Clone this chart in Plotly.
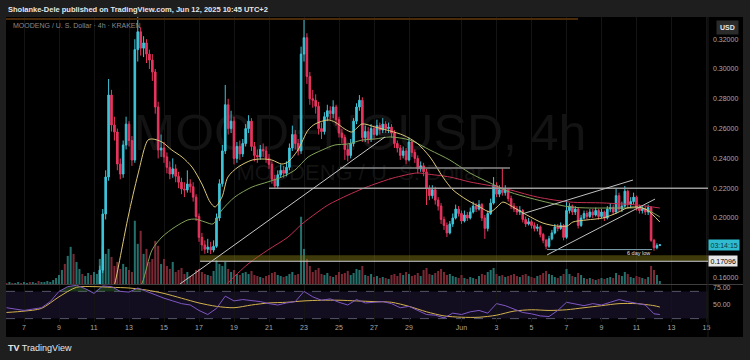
import numpy as np
import pandas as pd
import plotly.graph_objects as go

# ---------------- data (MOODENG/USD, 4h candles, KRAKEN) ----------------
start_time = "2025-05-06 00:00"          # time of the first 4h candle
first_open = 0.086

closes = [0.085, 0.086, 0.084, 0.087, 0.088, 0.087,
          0.088, 0.090, 0.089, 0.092, 0.095, 0.094, 0.097, 0.101, 0.104, 0.108,
          0.112, 0.118, 0.124, 0.130, 0.127, 0.132, 0.136, 0.134, 0.138, 0.141,
          0.139, 0.143, 0.146, 0.144, 0.148,
          0.151, 0.165, 0.2027, 0.2275, 0.2825, 0.2624, 0.2577, 0.2362, 0.2295, 0.2490,
          0.2630, 0.2520, 0.2389, 0.3130, 0.3250, 0.3140, 0.3175, 0.3100, 0.3060, 0.2980,
          0.2745, 0.2456, 0.2470, 0.2410, 0.2340, 0.2295, 0.2330, 0.2280, 0.2240, 0.2195,
          0.2188, 0.2228, 0.2210, 0.2140, 0.2010, 0.1870, 0.1819, 0.1790, 0.1805, 0.1785,
          0.1810, 0.2000, 0.2230, 0.2450, 0.2760, 0.2600, 0.2650, 0.2400, 0.2480, 0.2430,
          0.2500, 0.2600, 0.2650, 0.2480, 0.2420, 0.2410, 0.2460, 0.2450, 0.2400, 0.2360,
          0.2260, 0.2215, 0.2290, 0.2320, 0.2300, 0.2340, 0.2470, 0.2560, 0.2500, 0.2450,
          0.3100, 0.3210, 0.2950, 0.2800, 0.2790, 0.2750, 0.2600, 0.2580, 0.2680, 0.2720,
          0.2700, 0.2745, 0.2660, 0.2570, 0.2540, 0.2460, 0.2420, 0.2500, 0.2650, 0.2745,
          0.2790, 0.2540, 0.2580, 0.2530, 0.2600, 0.2560, 0.2620, 0.2590, 0.2630, 0.2600,
          0.2610, 0.2570, 0.2500, 0.2470, 0.2420, 0.2450, 0.2390, 0.2510, 0.2440, 0.2400,
          0.2330, 0.2350, 0.2310, 0.2200, 0.2150, 0.2190, 0.2120, 0.2080, 0.1990, 0.1950,
          0.1900, 0.1960, 0.2000, 0.2060, 0.2030, 0.1980, 0.2020, 0.2000, 0.2040, 0.2080,
          0.2060, 0.2090, 0.2000, 0.1930, 0.2030, 0.2100, 0.2220, 0.2160, 0.2190, 0.2170,
          0.2190, 0.2130, 0.2080, 0.2060, 0.2040, 0.2050, 0.1990, 0.1960, 0.1975, 0.1950,
          0.1930, 0.1940, 0.1890, 0.1850, 0.1810, 0.1860, 0.1900, 0.1940, 0.1930, 0.1950,
          0.1870, 0.2050, 0.2080, 0.2040, 0.2060, 0.1950, 0.2000, 0.2030, 0.2010, 0.2040,
          0.2020, 0.2050, 0.2010, 0.2040, 0.2000, 0.2060, 0.2070, 0.2040, 0.2150, 0.2060,
          0.2080, 0.2180, 0.2090, 0.2110, 0.2140, 0.2070, 0.2050, 0.2060, 0.2040, 0.2070,
          0.1850, 0.1800, 0.1815, 0.1820]

highs = [0.088, 0.088, 0.087, 0.089, 0.090, 0.089,
         0.091, 0.093, 0.092, 0.095, 0.098, 0.097, 0.100, 0.104, 0.107, 0.111,
         0.115, 0.121, 0.128, 0.134, 0.132, 0.135, 0.139, 0.138, 0.141, 0.144,
         0.143, 0.146, 0.149, 0.148, 0.151,
         0.154, 0.168, 0.206, 0.232, 0.2933, 0.286, 0.268, 0.260, 0.240, 0.252,
         0.268, 0.265, 0.255, 0.320, 0.335, 0.328, 0.322, 0.320, 0.313, 0.310,
         0.300, 0.278, 0.256, 0.251, 0.244, 0.238, 0.240, 0.236, 0.231, 0.227,
         0.224, 0.232, 0.226, 0.224, 0.216, 0.203, 0.190, 0.185, 0.186, 0.184,
         0.185, 0.203, 0.226, 0.249, 0.2893, 0.280, 0.272, 0.268, 0.251, 0.252,
         0.253, 0.263, 0.269, 0.267, 0.251, 0.246, 0.249, 0.250, 0.248, 0.243,
         0.238, 0.229, 0.232, 0.236, 0.235, 0.238, 0.250, 0.262, 0.259, 0.253,
         0.315, 0.333, 0.324, 0.298, 0.286, 0.283, 0.278, 0.264, 0.271, 0.276,
         0.275, 0.279, 0.276, 0.268, 0.260, 0.256, 0.249, 0.253, 0.267, 0.277,
         0.2825, 0.281, 0.262, 0.261, 0.263, 0.262, 0.266, 0.264, 0.267, 0.265,
         0.264, 0.263, 0.259, 0.252, 0.249, 0.248, 0.247, 0.254, 0.252, 0.246,
         0.242, 0.238, 0.237, 0.233, 0.222, 0.222, 0.221, 0.214, 0.210, 0.201,
         0.197, 0.198, 0.203, 0.209, 0.208, 0.205, 0.205, 0.204, 0.207, 0.211,
         0.210, 0.212, 0.210, 0.202, 0.205, 0.213, 0.2275, 0.224, 0.222, 0.2335,
         0.222, 0.220, 0.215, 0.210, 0.208, 0.208, 0.206, 0.201, 0.200, 0.199,
         0.197, 0.196, 0.195, 0.190, 0.186, 0.188, 0.192, 0.196, 0.196, 0.197,
         0.196, 0.2121, 0.210, 0.209, 0.208, 0.207, 0.202, 0.205, 0.205, 0.206,
         0.206, 0.207, 0.206, 0.206, 0.205, 0.208, 0.210, 0.209, 0.220, 0.217,
         0.211, 0.2215, 0.219, 0.214, 0.217, 0.215, 0.209, 0.208, 0.208, 0.209,
         0.208, 0.186, 0.183, 0.1825]

lows = [0.083, 0.084, 0.082, 0.083, 0.086, 0.085,
        0.085, 0.087, 0.087, 0.088, 0.091, 0.092, 0.093, 0.096, 0.100, 0.103,
        0.106, 0.110, 0.116, 0.122, 0.124, 0.126, 0.130, 0.131, 0.133, 0.136,
        0.136, 0.137, 0.141, 0.141, 0.143,
        0.146, 0.150, 0.163, 0.199, 0.225, 0.258, 0.252, 0.232, 0.226, 0.227,
        0.246, 0.248, 0.235, 0.237, 0.305, 0.309, 0.308, 0.304, 0.300, 0.292,
        0.270, 0.240, 0.241, 0.237, 0.230, 0.226, 0.227, 0.224, 0.220, 0.216,
        0.214, 0.217, 0.217, 0.211, 0.198, 0.184, 0.178, 0.176, 0.1765, 0.1758,
        0.177, 0.180, 0.198, 0.221, 0.243, 0.256, 0.257, 0.236, 0.237, 0.239,
        0.241, 0.248, 0.257, 0.245, 0.238, 0.237, 0.239, 0.241, 0.237, 0.233,
        0.223, 0.2195, 0.220, 0.227, 0.227, 0.228, 0.232, 0.245, 0.246, 0.242,
        0.243, 0.305, 0.290, 0.276, 0.274, 0.270, 0.256, 0.253, 0.256, 0.265,
        0.266, 0.267, 0.262, 0.254, 0.250, 0.239, 0.238, 0.240, 0.248, 0.263,
        0.272, 0.251, 0.251, 0.250, 0.251, 0.253, 0.255, 0.256, 0.257, 0.257,
        0.257, 0.254, 0.247, 0.244, 0.239, 0.240, 0.236, 0.238, 0.241, 0.237,
        0.230, 0.231, 0.228, 0.2087, 0.212, 0.213, 0.209, 0.205, 0.196, 0.192,
        0.1872, 0.189, 0.194, 0.199, 0.201, 0.196, 0.197, 0.198, 0.199, 0.203,
        0.204, 0.205, 0.198, 0.1860, 0.191, 0.202, 0.209, 0.214, 0.214, 0.215,
        0.215, 0.211, 0.206, 0.204, 0.202, 0.202, 0.197, 0.194, 0.195, 0.193,
        0.191, 0.191, 0.187, 0.183, 0.1790, 0.180, 0.185, 0.189, 0.191, 0.192,
        0.185, 0.186, 0.203, 0.202, 0.202, 0.193, 0.194, 0.199, 0.199, 0.200,
        0.200, 0.201, 0.199, 0.200, 0.198, 0.199, 0.204, 0.202, 0.203, 0.204,
        0.204, 0.207, 0.207, 0.207, 0.209, 0.205, 0.203, 0.203, 0.202, 0.202,
        0.184, 0.178, 0.179, 0.1812]

volumes = [1, 2, 1, 1, 2, 1,
           2, 1, 2, 2, 1, 3, 2, 2, 3, 2,
           4, 6, 9, 14, 20, 28, 37, 30, 22, 15,
           10, 8, 11, 9, 12, 10,
           25, 38, 30, 35,
           27, 18, 22, 15, 20, 17, 14, 12,
           63, 40,
           53, 30, 35, 22, 25, 43, 38,
           20, 25, 18, 15, 22, 12, 14, 16, 10, 12, 8, 9,
           14, 15, 12, 10, 9, 8, 13,
           24, 20, 18, 22,
           15, 12, 14, 10, 9, 11, 12, 10, 13, 9, 8, 7, 6, 8, 9, 11, 12, 9, 8, 7, 8, 10, 12, 9, 10,
           67, 35,
           25, 18, 12, 14, 16, 10, 9, 11, 8, 7, 9, 12, 10, 11, 13, 9, 11, 15, 14, 18, 9, 8, 10, 7,
           8, 6, 7, 6, 5, 9, 10, 8, 11, 9, 12, 10, 8, 9, 11, 8, 14, 16, 10, 9, 11, 13, 15, 12, 9, 10, 8, 7, 6, 9,
           6, 5, 7, 6, 5, 8, 10, 9, 12, 14, 16, 10, 8, 9, 7, 8, 9, 10, 8, 7, 9, 10, 8, 7, 6, 8, 9, 11, 13, 10, 9, 7, 6, 8, 10,
           15, 10, 8, 7, 11, 9, 6, 5, 6, 5, 4, 5, 6, 5, 6, 7, 6, 11, 9, 8, 12, 10, 7, 6, 8, 7, 6, 5, 7,
           18, 14, 9, 3]

# moving averages, sampled at candle indices counted from 2025-05-07 00:00
ma_ref_time = "2025-05-07 00:00"
ema_fast_idx = [29, 31.2, 35.7, 39.1, 42.5, 44.2, 47.3, 50.7, 54.2, 57.6, 61.0, 63.8, 65.5, 67.9, 69.9,
                73.4, 78.2, 81.6, 85.0, 88.4, 90.5, 93.9, 97.4, 99.8, 104.2, 106.6, 110.0, 112.4, 115.9,
                120.3, 129.9, 134.7, 139.2, 143.6, 147.1, 151.9, 156.3, 159.8, 162.2, 164.2, 167.6, 172.4,
                177.9, 182.7, 186.2, 188.2, 193.0, 198.5, 203.3, 206.7, 210.2, 213.6, 218.0]
ema_fast = [0.140, 0.1564, 0.2007, 0.2295, 0.2523, 0.2530, 0.2510, 0.2456, 0.2409, 0.2342, 0.2228, 0.2107,
            0.2074, 0.2141, 0.2275, 0.2342, 0.2389, 0.2396, 0.2389, 0.2362, 0.2376, 0.2456, 0.2590, 0.2631,
            0.2658, 0.2644, 0.2597, 0.2577, 0.2631, 0.2611, 0.2557, 0.2503, 0.2409, 0.2275, 0.2188, 0.2121,
            0.2074, 0.2040, 0.2074, 0.2107, 0.2074, 0.2020, 0.1966, 0.1946, 0.1946, 0.1973, 0.1987, 0.2000,
            0.2034, 0.2067, 0.2074, 0.2054, 0.1973]
ema_mid_idx = [37, 40.5, 43.9, 47.3, 51.8, 56.2, 58.6, 62.1, 64.8, 67.9, 72.3, 78.2, 83.6, 88.4, 92.9, 97.4,
               102.2, 106.6, 111.1, 115.9, 120.3, 125.5, 132.3, 139.2, 146.0, 152.9, 159.8, 166.6, 173.5,
               180.3, 187.2, 194.0, 200.9, 207.8, 212.2, 218.0]
ema_mid = [0.145, 0.1564, 0.1785, 0.1872, 0.1940, 0.1987, 0.1993, 0.1973, 0.1960, 0.2054, 0.2141, 0.2208,
           0.2242, 0.2275, 0.2322, 0.2409, 0.2456, 0.2490, 0.2497, 0.2523, 0.2530, 0.2544, 0.2523, 0.2456,
           0.2389, 0.2302, 0.2235, 0.2174, 0.2134, 0.2101, 0.2074, 0.2067, 0.2067, 0.2067, 0.2067, 0.2007]
ema_slow_idx = [66, 69.9, 76.8, 83.6, 90.5, 95.3, 99.8, 104.2, 111.1, 115.9, 120.3, 126.5, 134.7, 138.2,
                146.0, 152.9, 164.2, 175.9, 187.2, 198.5, 210.2, 218.0]
ema_slow = [0.148, 0.1564, 0.1691, 0.1785, 0.1872, 0.1960, 0.2027, 0.2087, 0.2154, 0.2195, 0.2228, 0.2268,
            0.2302, 0.2295, 0.2275, 0.2242, 0.2201, 0.2141, 0.2107, 0.2101, 0.2087, 0.2067]

rsi_idx = list(range(-6, 217, 3)) + [218]
rsi = [46, 44, 42, 44, 46, 55, 70, 77, 79, 74,
       67, 78, 77, 70, 69, 75, 70, 64, 60, 56,
       52, 50, 42, 36, 45, 63, 56, 58, 57, 55,
       52, 50, 53, 55, 70, 62, 57, 59, 54, 50,
       58, 53, 54, 55, 52, 46, 48, 42, 36, 35,
       31, 38, 36, 40, 42, 38, 52, 49, 44, 39,
       37, 34, 33, 42, 54, 52, 49, 52, 50, 54,
       58, 55, 52, 50, 37, 36]
rsi_ma_idx = list(range(-6, 217, 6)) + [218]
rsi_ma = [39, 41, 45, 62, 76, 77, 76, 75, 72, 67,
          60, 53, 48, 46, 50, 53, 54, 56, 57, 57,
          56, 55, 54, 48, 40, 34, 32, 32, 35, 41,
          43, 42, 43, 46, 49, 52, 52, 49, 47]

price_ticks = [0.16, 0.20, 0.22, 0.24, 0.26, 0.28, 0.30, 0.32]
date_ticks = ["2025-05-07", "2025-05-09", "2025-05-11", "2025-05-13", "2025-05-15", "2025-05-17",
              "2025-05-19", "2025-05-21", "2025-05-23", "2025-05-25", "2025-05-27", "2025-05-29",
              "2025-06-01", "2025-06-03", "2025-06-05", "2025-06-07", "2025-06-09", "2025-06-11",
              "2025-06-13", "2025-06-15"]
date_labels = ["7", "9", "11", "13", "15", "17", "19", "21", "23", "25", "27", "29",
               "Jun", "3", "5", "7", "9", "11", "13", "15"]

# ---------------- derived ----------------
times = pd.date_range(start_time, periods=len(closes), freq="4h")
opens = [first_open] + closes[:-1]
ref = pd.Timestamp(ma_ref_time)
def idx_time(ix):
    return [ref + pd.Timedelta(hours=4 * v) for v in ix]
def day(d):  # day counted from 30 April (May 7 -> 7, Jun 1 -> 32)
    return pd.Timestamp("2025-04-30") + pd.Timedelta(days=d)

UP, DN = "#3fc4d8", "#e8355f"
VUP, VDN = "#23706c", "#7a2934"
vol_colors = [VUP if c >= o else VDN for o, c in zip(opens, closes)]

X0, X1 = day(5.9714), day(46.0857)
P0, P1 = 0.1557, 0.3349
FONT = "Liberation Sans, Arial, sans-serif"
AX = "#a9a9a9"

# plot area in pixels: x 6..708, y 17..322
def px(x): return (x - 6) / 702
def py(y): return (322 - y) / 305

fig = go.Figure()

# watermark (base layer, below everything)
fig.add_trace(go.Scatter(x=[day(26.2), day(26.2)], y=[0.2543, 0.2289], mode="text",
                         text=["MOODENGUSD, 4h", "MOODENG / U. S. Dollar"],
                         textfont=dict(size=[50, 22], color="#131313", family=FONT),
                         hoverinfo="skip", showlegend=False, xaxis="x", yaxis="y"))

# volume overlay
fig.add_trace(go.Bar(x=times, y=volumes, marker=dict(color=vol_colors, line=dict(width=0)),
                     width=0.7 * 4 * 3600 * 1000, yaxis="y2", showlegend=False, hoverinfo="skip"))

# candles
fig.add_trace(go.Candlestick(x=times, open=opens, high=highs, low=lows, close=closes,
                             increasing=dict(line=dict(color=UP, width=1), fillcolor=UP),
                             decreasing=dict(line=dict(color=DN, width=1), fillcolor=DN),
                             whiskerwidth=0, yaxis="y4", showlegend=False, hoverinfo="skip"))

for ix, vals, col in [(ema_slow_idx, ema_slow, "#c2304f"),
                      (ema_mid_idx, ema_mid, "#82a35a"),
                      (ema_fast_idx, ema_fast, "#dcc878")]:
    fig.add_trace(go.Scatter(x=idx_time(ix), y=vals, mode="lines",
                             line=dict(color=col, width=1, shape="spline", smoothing=0.8),
                             yaxis="y4", showlegend=False, hoverinfo="skip"))

# RSI pane: overbought fill, RSI-based MA, RSI
rsi_times = idx_time(rsi_idx)
fig.add_trace(go.Scatter(x=rsi_times, y=[70] * len(rsi), mode="lines", line=dict(width=0),
                         yaxis="y3", showlegend=False, hoverinfo="skip"))
fig.add_trace(go.Scatter(x=rsi_times, y=list(np.maximum(rsi, 70)), mode="lines", line=dict(width=0),
                         fill="tonexty", fillcolor="rgba(70,150,70,0.35)",
                         yaxis="y3", showlegend=False, hoverinfo="skip"))
fig.add_trace(go.Scatter(x=idx_time(rsi_ma_idx), y=rsi_ma, mode="lines",
                         line=dict(color="#d2b24c", width=1, shape="spline", smoothing=0.8),
                         yaxis="y3", showlegend=False, hoverinfo="skip"))
fig.add_trace(go.Scatter(x=rsi_times, y=rsi, mode="lines",
                         line=dict(color="#7e57c2", width=1),
                         yaxis="y3", showlegend=False, hoverinfo="skip"))

shapes = [
    dict(type="rect", xref="paper", yref="paper", x0=px(6), x1=px(743), y0=py(337), y1=py(17),
         fillcolor="#000000", line=dict(width=0), layer="below"),
    dict(type="rect", xref="paper", yref="y3", x0=0, x1=1, y0=30, y1=70,
         fillcolor="#130d20", line=dict(width=0), layer="below"),
    dict(type="line", xref="paper", yref="y3", x0=0, x1=1, y0=70, y1=70,
         line=dict(color="#55556a", width=1, dash="dash"), layer="below"),
    dict(type="line", xref="paper", yref="y3", x0=0, x1=1, y0=30, y1=30,
         line=dict(color="#55556a", width=1, dash="dash"), layer="below"),
    dict(type="line", xref="paper", yref="paper", x0=px(6), x1=px(578), y0=py(19), y1=py(19),
         line=dict(color="#4a2a08", width=2)),
    dict(type="line", xref="paper", yref="paper", x0=px(6), x1=px(743), y0=py(284.5), y1=py(284.5),
         line=dict(color="#3e3e3e", width=1)),
    dict(type="line", xref="paper", yref="paper", x0=1, x1=1, y0=py(337), y1=py(17),
         line=dict(color="#1c1c1c", width=1)),
    # drawings
    dict(type="rect", xref="x", yref="y", x0=day(17.06), x1=X1, y0=0.1712, y1=0.1750,
         fillcolor="rgba(125,115,20,0.5)", line=dict(width=0), layer="above"),
    dict(type="line", xref="x", yref="y", x0=day(17.06), x1=X1, y0=0.17096, y1=0.17096,
         line=dict(color="#cfcfcf", width=1)),
    dict(type="line", xref="x", yref="y", x0=day(21.0), x1=X1, y0=0.2200, y1=0.2200,
         line=dict(color="#9c9c9c", width=1.5)),
    dict(type="line", xref="x", yref="y", x0=day(25.06), x1=day(34.77), y0=0.2336, y1=0.2336,
         line=dict(color="#8a8a8a", width=1.5)),
    dict(type="line", xref="x", yref="y", x0=day(15.91), x1=day(27.63), y0=0.1557, y1=0.2544,
         line=dict(color="#c8c8c8", width=1)),
    dict(type="line", xref="x", yref="y", x0=day(36.89), x1=day(43.06), y0=0.1752, y1=0.2127,
         line=dict(color="#c0c0c0", width=1)),
    dict(type="line", xref="x", yref="y", x0=day(35.46), x1=day(41.8), y0=0.2027, y1=0.2255,
         line=dict(color="#c0c0c0", width=1)),
    dict(type="line", xref="x", yref="y", x0=day(36.89), x1=day(42.89), y0=0.1788, y1=0.1788,
         line=dict(color="#7fa6b6", width=1)),
]

annotations = [
    dict(text="<b>Sholanke-Dele published on TradingView.com, Jun 12, 2025 10:45 UTC+2</b>",
         xref="paper", yref="paper", x=px(6), y=py(9), xanchor="left", yanchor="middle",
         showarrow=False, font=dict(size=7.5, color="#e6e6e6", family=FONT)),
    dict(text="MOODENG / U. S. Dollar · 4h · KRAKEN", xref="paper", yref="paper",
         x=px(11), y=py(26), xanchor="left", yanchor="middle", showarrow=False,
         font=dict(size=7, color="#8a8a8a", family=FONT)),
    dict(text="<b>USD</b>", xref="paper", yref="paper", x=px(727), y=py(27),
         xanchor="center", yanchor="middle", showarrow=False, bgcolor="#2b2b2b",
         borderpad=3, font=dict(size=7, color="#e8e8e8", family=FONT)),
    dict(text="03:14:15", xref="paper", yref="y", x=px(724), y=0.1819,
         xanchor="center", yanchor="middle", showarrow=False, bgcolor="#30bcd0",
         borderpad=1.5, font=dict(size=7, color="#083a44", family=FONT)),
    dict(text="0.17096", xref="paper", yref="y", x=px(723), y=0.17096,
         xanchor="center", yanchor="middle", showarrow=False, bgcolor="#e6e6e6",
         borderpad=1.5, font=dict(size=7, color="#000000", family=FONT)),
    dict(text="6 day low", xref="x", yref="y", x=day(42.14), y=0.1762,
         xanchor="center", yanchor="middle", showarrow=False,
         font=dict(size=5.5, color="#e0e0e0", family=FONT)),
    dict(text="<b>TV</b> TradingView", xref="paper", yref="paper", x=px(6), y=py(348),
         xanchor="left", yanchor="middle", showarrow=False,
         font=dict(size=9, color="#e8e8e8", family=FONT)),
]

fig.update_layout(
    width=750, height=360,
    margin=dict(l=6, r=42, t=17, b=38, pad=0),
    paper_bgcolor="#1e1e1e", plot_bgcolor="#000000",
    showlegend=False, hovermode=False, boxgap=0.45, boxgroupgap=0,
    font=dict(family=FONT, size=7, color=AX),
    xaxis=dict(type="date", range=[X0, X1], domain=[0, 1], anchor="y3",
               tickvals=date_ticks, ticktext=date_labels, ticks="", showline=False,
               zeroline=False, showgrid=True, gridcolor="#141414", gridwidth=1,
               tickfont=dict(size=7, color=AX), rangeslider=dict(visible=False)),
    yaxis=dict(domain=[py(284), 1], range=[P0, P1], side="right", anchor="x",
               tickvals=price_ticks, ticktext=[f"{v:.5f}" for v in price_ticks],
               showgrid=False, zeroline=False, ticks="", ticklabelstandoff=4,
               tickfont=dict(size=7, color=AX)),
    yaxis2=dict(overlaying="y", anchor="x", range=[0, 266], visible=False),
    yaxis4=dict(overlaying="y", anchor="x", range=[P0, P1], visible=False),
    yaxis3=dict(domain=[0, py(285)], range=[25, 79.4], side="right", anchor="x",
                tickvals=[50, 75], ticktext=["50.00", "75.00"], showgrid=False,
                zeroline=False, ticks="", ticklabelstandoff=4,
                tickfont=dict(size=7, color=AX)),
    shapes=shapes, annotations=annotations,
)

fig.write_html("out.html",
               config={"displayModeBar": False, "staticPlot": True},
               post_script="document.body.style.margin='0';"
                           "document.documentElement.style.overflow='hidden';")
